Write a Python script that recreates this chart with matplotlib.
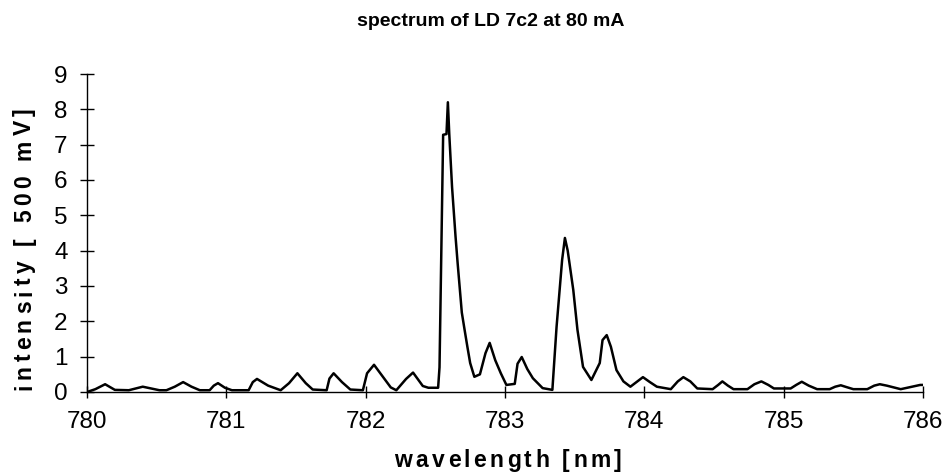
import matplotlib
matplotlib.use("Agg")
import matplotlib.pyplot as plt
from matplotlib.font_manager import FontProperties

wavelength = [780.00, 780.06, 780.13, 780.20, 780.30, 780.35, 780.40, 780.46, 780.52, 780.57,
              780.63, 780.69, 780.75, 780.81, 780.88, 780.91, 780.94, 780.99, 781.04, 781.16,
              781.19, 781.22, 781.30, 781.39, 781.45, 781.51, 781.57, 781.62, 781.72, 781.74,
              781.77, 781.83, 781.89, 781.98, 782.01, 782.06, 782.12, 782.18, 782.22, 782.29,
              782.34, 782.41, 782.45, 782.52, 782.53, 782.556, 782.58, 782.59, 782.60, 782.62,
              782.645, 782.66, 782.69, 782.71, 782.73, 782.75, 782.78, 782.82, 782.86, 782.89,
              782.93, 782.97, 783.01, 783.07, 783.09, 783.12, 783.16, 783.20, 783.27, 783.34,
              783.37, 783.41, 783.43, 783.45, 783.49, 783.52, 783.56, 783.62, 783.68, 783.70,
              783.73, 783.76, 783.80, 783.85, 783.90, 783.95, 783.99, 784.04, 784.09, 784.19,
              784.24, 784.28, 784.33, 784.38, 784.49, 784.53, 784.56, 784.60, 784.64, 784.74,
              784.79, 784.84, 784.89, 784.93, 785.05, 785.09, 785.13, 785.18, 785.24, 785.33,
              785.37, 785.41, 785.45, 785.50, 785.60, 785.65, 785.69, 785.74, 785.79, 785.84,
              785.91, 785.98, 786.00]
intensity = [0.00, 0.08, 0.22, 0.06, 0.05, 0.10, 0.15, 0.10, 0.05, 0.05,
             0.15, 0.28, 0.15, 0.05, 0.05, 0.18, 0.25, 0.12, 0.05, 0.05,
             0.28, 0.37, 0.18, 0.05, 0.25, 0.53, 0.25, 0.07, 0.05, 0.38,
             0.53, 0.28, 0.07, 0.05, 0.53, 0.77, 0.45, 0.13, 0.05, 0.37,
             0.55, 0.17, 0.12, 0.12, 0.70, 7.28, 7.30, 8.20, 7.30, 5.80,
             4.40, 3.65, 2.25, 1.76, 1.28, 0.82, 0.43, 0.50, 1.10, 1.39,
             0.90, 0.53, 0.20, 0.23, 0.80, 0.99, 0.65, 0.39, 0.11, 0.06,
             1.84, 3.74, 4.36, 4.00, 2.89, 1.76, 0.71, 0.34, 0.82, 1.47,
             1.61, 1.28, 0.62, 0.30, 0.15, 0.30, 0.42, 0.28, 0.15, 0.08,
             0.30, 0.42, 0.30, 0.10, 0.08, 0.20, 0.30, 0.18, 0.08, 0.08,
             0.22, 0.30, 0.20, 0.10, 0.10, 0.20, 0.29, 0.18, 0.08, 0.08,
             0.15, 0.19, 0.14, 0.08, 0.08, 0.18, 0.22, 0.18, 0.13, 0.08,
             0.14, 0.20, 0.20]
x_ticks = [780, 781, 782, 783, 784, 785, 786]
y_ticks = [0, 1, 2, 3, 4, 5, 6, 7, 8, 9]
title = "spectrum of LD 7c2 at 80 mA"
xlabel = "wavelength [nm]"
ylabel = "intensity [ 500 mV]"

FAMILY = ['Liberation Sans', 'DejaVu Sans']
plt.rcParams['font.family'] = FAMILY

W, H = 952, 474
fig = plt.figure(figsize=(W / 100, H / 100), dpi=100)
ax = fig.add_axes([87 / W, 1 - 392 / H, (923 - 87) / W, (392 - 74) / H])
ax.plot(wavelength, intensity, color='black', linewidth=1.8)
ax.set_xlim(780, 786)
ax.set_ylim(0, 9)
ax.set_xticks(x_ticks)
ax.set_yticks(y_ticks)
ax.spines['top'].set_visible(False)
ax.spines['right'].set_visible(False)
ax.spines['left'].set_linewidth(1.0)
ax.spines['bottom'].set_linewidth(1.0)
ax.tick_params(axis='both', direction='inout', labelsize=17.5, width=1.0)
ax.tick_params(axis='x', length=8, pad=10)
ax.tick_params(axis='y', length=10, pad=9)

renderer = fig.canvas.get_renderer()


def char_width(ch, fp):
    w2, _, _ = renderer.get_text_width_height_descent("xx", fp, ismath=False)
    w3, _, _ = renderer.get_text_width_height_descent("x" + ch + "x", fp, ismath=False)
    return w3 - w2


def spaced_text(s, cx, cy, total_px, size, rotation=0):
    """Draw letter-spaced bold text centred at pixel (cx, cy) on the baseline."""
    fp = FontProperties(family=FAMILY, size=size, weight='bold')
    widths = [char_width(ch, fp) for ch in s]
    spacing = max(0.0, (total_px - sum(widths)) / (len(s) - 1))
    total = sum(widths) + spacing * (len(s) - 1)
    pos = -total / 2
    for ch, w in zip(s, widths):
        c = pos + w / 2
        if rotation == 0:
            px, py = cx + c, cy
        else:
            px, py = cx, cy - c
        fig.text(px / W, 1 - py / H, ch, fontproperties=fp, ha='center', va='baseline',
                 rotation=rotation, rotation_mode='anchor')
        pos += w + spacing


fig.text(491 / W, 1 - 21 / H, title, ha='center', va='center', fontsize=14, fontweight='bold')
spaced_text(xlabel, 508, 467, 227, 16.5)
spaced_text(ylabel, 31, 249, 282, 16.5, rotation=90)

fig.savefig('out.png', dpi=100)
